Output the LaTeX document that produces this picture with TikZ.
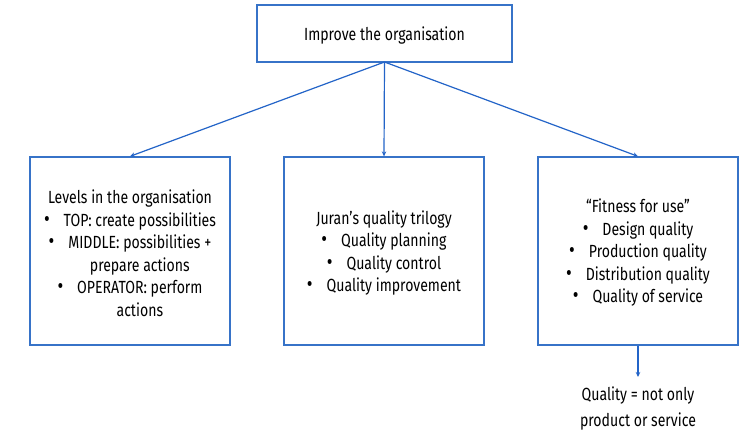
\documentclass[tikz,border=0pt]{standalone}
\usepackage{fontspec}
\setmainfont{Fira Sans}[FakeStretch=0.8]
\usetikzlibrary{arrows.meta}
\definecolor{boxblue}{RGB}{55,115,200}
\definecolor{arrblue}{RGB}{35,100,200}
\newcommand{\bl}{\scalebox{1.25}{\textbullet}\hspace{14pt}}
\newcommand{\ind}{\phantom{\scalebox{1.25}{\textbullet}}\hspace{14pt}}
\tikzset{
  box/.style={draw=boxblue, line width=1.3pt, fill=white, inner sep=0pt},
  lbl/.style={align=center, font=\fontsize{17.6}{22.5}\selectfont, inner sep=0pt},
  conn/.style={draw=arrblue, line width=1.2pt, -{Stealth[length=5pt,width=4.5pt]}}
}
\begin{document}
\begin{tikzpicture}[x=1pt,y=-1pt]
\useasboundingbox[fill=white] (0,0) rectangle (750,438);
\node[box, minimum width=255pt, minimum height=57pt] (top) at (384.5,33.5) {};
\node[lbl] (toplbl) at (384.5,36) {Improve the organisation};
\node[box, minimum width=200pt, minimum height=188pt] (left) at (130,251) {};
\node[box, minimum width=200pt, minimum height=188pt] (mid) at (384,251) {};
\node[box, minimum width=200pt, minimum height=188pt] (right) at (638,251) {};
\node[lbl] (leftlbl) at (130,253) {Levels in the organisation\\
\bl TOP: create possibilities\\
\bl MIDDLE: possibilities +\\
\ind prepare actions\\
\bl OPERATOR: perform\\
\ind actions};
\node[lbl] (midlbl) at (384,253) {Juran’s quality trilogy\\
\bl Quality planning\\
\bl Quality control\\
\bl Quality improvement};
\node[lbl] (rightlbl) at (638,253) {“Fitness for use”\\
\bl Design quality\\
\bl Production quality\\
\bl Distribution quality\\
\bl Quality of service};
\coordinate (src) at (384.5,62);
\draw[conn] (src) -- (left.north);
\draw[conn] (src) -- (mid.north);
\draw[conn] (src) -- (right.north);
\coordinate (noteend) at (638,377);
\node[lbl, font=\fontsize{17.6}{26}\selectfont] (note) at (638,409) {Quality = not only\\product or service};
\draw[conn] (right.south) -- (noteend);
\end{tikzpicture}
\end{document}
